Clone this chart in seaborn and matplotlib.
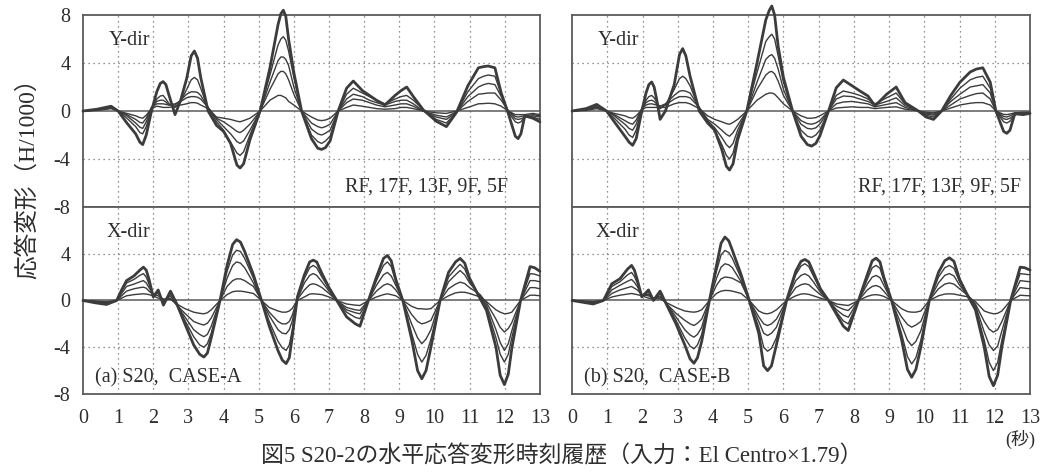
import numpy as np
import pandas as pd
import matplotlib
matplotlib.use("Agg")
import matplotlib.pyplot as plt
import seaborn as sns

# ---------------- data ----------------
floors = ["RF", "17F", "13F", "9F", "5F"]
x_ticks = list(range(14))
y_ticks_top = [-8, -4, 0, 4, 8]
y_ticks_bot = [-8, -4, 0, 4]

# (a) CASE-A, Y-dir
tA_y = [0, 0.4, 0.8, 1.0, 1.25, 1.5, 1.7, 1.95, 2.1, 2.28, 2.45, 2.62, 2.78, 2.95, 3.17,
        3.35, 3.56, 3.8, 4.0, 4.2, 4.47, 4.75, 5.04, 5.32, 5.55, 5.7, 5.85, 6.0, 6.22, 6.5,
        6.79, 7.03, 7.26, 7.5, 7.69, 7.95, 8.15, 8.35, 8.59, 8.88, 9.05, 9.21, 9.4, 9.68, 10.05,
        10.34, 10.63, 10.95, 11.25, 11.53, 11.72, 11.9, 12.1, 12.38, 12.57, 12.8, 13.0]
A_y_RF = [0, 0.15, 0.4, 0.0, -1.0, -1.9, -2.8, 0.0, 1.6, 2.45, 1.3, -0.3, 0.9, 2.7, 5.0,
          2.8, 0.0, -1.2, -1.7, -2.7, -4.75, -2.4, 0.0, 3.6, 7.2, 8.4, 6.0, 3.2, 0.0, -2.3,
          -3.2, -2.5, 0.0, 1.9, 2.5, 1.7, 1.3, 0.9, 0.5, 1.3, 1.7, 2.0, 1.2, 0.1, -0.85,
          -1.3, -0.1, 2.1, 3.6, 3.75, 3.6, 1.5, -0.2, -2.3, -0.4, -0.6, -0.9]
A_y_17F = [0, 0.12, 0.35, 0.0, -0.6, -1.3, -1.9, 0.2, 1.0, 1.3, 0.6, 0.3, 0.8, 1.8, 2.8,
           1.9, 0.2, -0.9, -1.6, -2.6, -3.7, -2.0, 0.1, 3.0, 5.5, 6.2, 5.0, 2.8, 0.0, -2.0,
           -2.7, -2.1, 0.0, 1.4, 1.9, 1.5, 1.2, 0.9, 0.6, 1.0, 1.2, 1.3, 0.9, 0.1, -0.7,
           -1.0, -0.1, 1.6, 2.7, 3.0, 2.9, 1.4, -0.1, -1.0, -0.5, -0.5, -0.7]
A_y_13F = [0, 0.1, 0.3, 0.0, -0.4, -1.0, -1.45, 0.3, 0.8, 0.9, 0.5, 0.5, 0.9, 1.4, 1.6,
           1.3, 0.3, -0.7, -1.3, -1.9, -2.7, -1.6, 0.0, 2.4, 4.2, 4.5, 3.8, 2.0, 0.0, -1.5,
           -2.0, -1.6, 0.0, 1.0, 1.4, 1.2, 0.9, 0.7, 0.5, 0.8, 0.9, 0.9, 0.6, 0.0, -0.5,
           -0.7, -0.1, 1.2, 2.0, 2.3, 2.2, 1.2, 0.0, -0.7, -0.5, -0.4, -0.5]
A_y_9F = [0, 0.08, 0.25, 0.0, -0.3, -0.7, -1.0, 0.3, 0.6, 0.6, 0.5, 0.6, 0.8, 1.1, 1.2,
          1.0, 0.3, -0.6, -0.9, -1.3, -1.8, -1.1, 0.0, 1.8, 3.1, 3.3, 2.6, 1.4, 0.0, -1.0,
          -1.4, -1.1, 0.0, 0.7, 1.0, 0.9, 0.7, 0.5, 0.35, 0.5, 0.6, 0.6, 0.4, 0.0, -0.35,
          -0.5, -0.05, 0.8, 1.4, 1.5, 1.5, 0.9, 0.0, -0.5, -0.4, -0.3, -0.4]
A_y_5F = [0, 0.05, 0.2, 0.0, -0.2, -0.4, -0.6, 0.2, 0.4, 0.3, 0.3, 0.4, 0.5, 0.6, 0.7,
          0.5, 0.2, -0.5, -0.6, -0.7, -0.9, -0.6, 0.0, 0.9, 1.3, 1.2, 0.8, 0.5, 0.0, -0.5,
          -0.8, -0.6, 0.0, 0.3, 0.5, 0.4, 0.3, 0.2, 0.15, 0.2, 0.3, 0.3, 0.2, 0.0, -0.15,
          -0.2, 0.0, 0.3, 0.6, 0.65, 0.6, 0.4, 0.0, -0.3, -0.3, -0.2, -0.3]
# extra readings around the rounded extrema
tA_y2 = [1.62, 1.8, 2.2, 2.36, 3.08, 3.26, 4.38, 4.57, 5.63, 5.77, 6.68, 6.9, 11.4, 12.3, 12.46]
A_y2_RF = [-2.6, -2.0, 2.3, 2.2, 4.6, 4.4, -4.5, -4.4, 8.1, 7.9, -3.1, -3.05, 3.7, -2.1, -1.9]
A_y2_17F = [-1.8, -1.3, 1.25, 1.0, 2.6, 2.6, -3.5, -3.4, 6.0, 5.9, -2.55, -2.5, 2.9, -0.9, -0.9]
A_y2_13F = [-1.35, -0.9, 0.9, 0.75, 1.6, 1.55, -2.55, -2.5, 4.5, 4.3, -1.9, -1.85, 2.2, -0.65, -0.65]
A_y2_9F = [-0.95, -0.6, 0.6, 0.55, 1.2, 1.15, -1.7, -1.6, 3.3, 3.1, -1.3, -1.3, 1.45, -0.45, -0.45]
A_y2_5F = [-0.55, -0.35, 0.35, 0.3, 0.7, 0.65, -0.85, -0.8, 1.3, 1.1, -0.75, -0.75, 0.62, -0.3, -0.3]

# (a) CASE-A, X-dir
tA_x = [0, 0.35, 0.67, 0.96, 1.1, 1.24, 1.45, 1.72, 1.88, 2.0, 2.14, 2.29, 2.49, 2.67, 2.9,
        3.15, 3.44, 3.65, 3.9, 4.1, 4.37, 4.6, 4.85, 5.08, 5.3, 5.55, 5.78, 5.95, 6.1, 6.3,
        6.55, 6.8, 7.0, 7.22, 7.5, 7.88, 8.12, 8.35, 8.66, 8.9, 9.1, 9.35, 9.64, 9.9, 10.16,
        10.4, 10.73, 11.0, 11.3, 11.48, 11.75, 11.99, 12.2, 12.45, 12.72, 13.0]
A_x_RF = [0, -0.2, -0.34, 0.0, 0.9, 1.7, 2.1, 2.85, 1.8, 0.3, 0.9, -0.4, 0.8, -0.3, -2.0,
          -3.8, -4.84, -3.2, 0.0, 3.0, 5.2, 4.2, 2.2, 0.0, -2.2, -4.3, -5.4, -3.2, 0.3, 2.2,
          3.45, 2.3, 1.1, 0.0, -1.4, -2.2, 0.0, 2.0, 3.85, 1.8, 0.0, -3.3, -6.7, -4.0, 0.0,
          2.4, 3.6, 1.9, 0.15, -0.85, -4.0, -7.2, -4.1, 0.0, 2.9, 2.5]
A_x_17F = [0, -0.15, -0.3, 0.0, 0.8, 1.5, 1.8, 2.3, 1.4, 0.4, 0.8, -0.2, 0.6, -0.3, -1.7,
           -3.1, -4.0, -2.8, 0.0, 2.5, 4.3, 3.6, 1.9, 0.0, -1.8, -3.5, -4.27, -2.6, 0.2, 1.9,
           3.0, 2.0, 1.0, 0.0, -1.0, -1.56, 0.0, 1.7, 3.3, 1.6, 0.0, -2.8, -5.27, -3.3, 0.0,
           2.0, 3.1, 1.7, 0.3, -0.6, -3.2, -5.27, -3.2, 0.0, 2.3, 2.1]
A_x_13F = [0, -0.1, -0.25, 0.0, 0.6, 1.2, 1.4, 1.7, 1.1, 0.5, 0.6, 0.0, 0.4, -0.4, -1.4,
           -2.5, -3.1, -2.2, 0.0, 1.9, 3.3, 2.8, 1.5, 0.0, -1.3, -2.5, -2.85, -1.8, 0.1, 1.5,
           2.3, 1.6, 0.8, 0.0, -0.8, -1.14, 0.0, 1.3, 2.4, 1.3, 0.0, -2.0, -3.7, -2.5, 0.0,
           1.6, 2.56, 1.5, 0.4, -0.4, -2.5, -4.27, -2.6, 0.0, 1.7, 1.6]
A_x_9F = [0, -0.08, -0.2, 0.0, 0.4, 0.8, 1.0, 1.14, 0.8, 0.5, 0.4, 0.1, 0.2, -0.4, -1.1,
          -1.8, -2.1, -1.5, 0.0, 1.2, 1.85, 1.7, 1.2, 0.0, -1.0, -1.8, -2.0, -1.3, 0.1, 0.9,
          1.43, 1.1, 0.6, 0.0, -0.6, -0.85, 0.0, 0.8, 1.43, 0.9, 0.0, -1.2, -2.0, -1.7, 0.0,
          1.0, 1.57, 1.1, 0.5, -0.2, -1.6, -2.7, -1.9, 0.0, 1.1, 1.0]
A_x_5F = [0, -0.05, -0.1, 0.0, 0.2, 0.4, 0.5, 0.57, 0.5, 0.4, 0.2, 0.1, 0.1, -0.3, -0.7,
          -1.0, -1.14, -0.8, 0.0, 0.5, 0.8, 0.75, 0.6, 0.0, -0.6, -0.9, -1.0, -0.7, 0.0, 0.3,
          0.57, 0.5, 0.3, 0.0, -0.3, -0.43, 0.0, 0.3, 0.57, 0.4, 0.0, -0.5, -0.71, -0.7, 0.0,
          0.4, 0.71, 0.6, 0.3, -0.1, -0.8, -1.14, -1.0, 0.0, 0.45, 0.4]
tA_x2 = [1.62, 1.8, 3.32, 3.54, 4.26, 4.48, 5.67, 5.87, 6.45, 6.65, 7.75, 8.55, 8.77,
         9.52, 9.76, 10.6, 10.86, 11.87, 12.1, 12.85]
A_x2_RF = [2.6, 2.6, -4.6, -4.5, 4.8, 5.0, -5.1, -4.9, 3.3, 3.3, -2.0, 3.6, 3.4,
           -6.0, -6.0, 3.3, 3.2, -6.4, -6.3, 2.8]
A_x2_17F = [2.15, 2.0, -3.8, -3.7, 3.9, 4.2, -4.05, -3.8, 2.8, 2.8, -1.45, 3.0, 2.9,
            -4.6, -4.7, 2.7, 2.7, -4.6, -4.6, 2.25]
A_x2_13F = [1.6, 1.5, -2.9, -2.9, 3.0, 3.2, -2.8, -2.5, 2.15, 2.15, -1.05, 2.2, 2.1,
            -3.2, -3.3, 2.2, 2.2, -3.6, -3.7, 1.7]
A_x2_9F = [1.1, 1.05, -2.0, -1.95, 1.7, 1.85, -2.0, -1.8, 1.35, 1.35, -0.8, 1.3, 1.3,
           -1.8, -1.9, 1.4, 1.45, -2.3, -2.4, 1.1]
A_x2_5F = [0.55, 0.55, -1.1, -1.05, 0.75, 0.8, -1.0, -0.9, 0.55, 0.55, -0.4, 0.5, 0.5,
           -0.7, -0.75, 0.65, 0.7, -1.0, -1.1, 0.45]

# (b) CASE-B, Y-dir
tB_y = [0, 0.4, 0.7, 0.98, 1.2, 1.5, 1.72, 1.98, 2.1, 2.26, 2.4, 2.5, 2.65, 2.9, 3.14,
        3.35, 3.61, 3.85, 4.05, 4.25, 4.47, 4.7, 4.96, 5.25, 5.5, 5.67, 5.85, 6.0, 6.26, 6.5,
        6.8, 7.03, 7.28, 7.5, 7.7, 7.95, 8.17, 8.4, 8.6, 8.93, 9.2, 9.45, 9.83, 10.05, 10.26,
        10.49, 10.75, 11.01, 11.3, 11.66, 11.87, 12.03, 12.34, 12.57, 12.8, 13.0]
B_y_RF = [0, 0.2, 0.55, 0.0, -0.9, -2.1, -2.86, 0.0, 1.5, 2.42, 1.0, -0.7, 0.0, 2.2, 5.2,
          2.9, 0.0, -1.0, -1.6, -3.2, -4.92, -2.4, 0.0, 4.0, 7.6, 8.75, 5.4, 2.8, 0.0, -2.1,
          -2.92, -2.1, 0.0, 1.94, 2.58, 2.1, 1.67, 1.25, 0.42, 1.4, 2.0, 0.7, 0.0, -0.5, -0.7,
          0.0, 1.3, 2.4, 3.25, 3.6, 2.4, 0.0, -1.86, -0.2, -0.3, -0.2]
B_y_17F = [0, 0.15, 0.45, 0.0, -0.6, -1.5, -2.2, 0.1, 0.9, 1.3, 0.8, 0.2, 0.5, 1.8, 2.9,
           2.1, 0.2, -0.9, -1.6, -2.8, -4.0, -2.0, 0.1, 3.2, 5.8, 6.4, 4.6, 2.4, 0.0, -1.6,
           -2.2, -1.6, 0.0, 1.3, 1.67, 1.5, 1.3, 1.0, 0.6, 1.1, 1.5, 0.6, 0.0, -0.35, -0.5,
           0.0, 1.0, 1.9, 2.6, 2.9, 1.9, 0.0, -1.0, -0.3, -0.3, -0.2]
B_y_13F = [0, 0.12, 0.35, 0.0, -0.4, -1.1, -1.6, 0.2, 0.7, 0.9, 0.6, 0.4, 0.6, 1.3, 1.7,
           1.5, 0.3, -0.8, -1.4, -2.2, -3.05, -1.6, 0.0, 2.4, 4.3, 4.7, 3.5, 1.8, 0.0, -1.1,
           -1.5, -1.1, 0.0, 1.0, 1.25, 1.2, 1.0, 0.8, 0.5, 0.8, 1.1, 0.45, 0.0, -0.25, -0.35,
           0.0, 0.8, 1.4, 2.0, 2.2, 1.5, 0.0, -0.7, -0.3, -0.2, -0.2]
B_y_9F = [0, 0.1, 0.3, 0.0, -0.3, -0.8, -1.1, 0.2, 0.5, 0.6, 0.5, 0.4, 0.5, 1.0, 1.2,
          1.1, 0.3, -0.7, -1.1, -1.6, -2.1, -1.2, 0.0, 1.8, 3.0, 3.3, 2.5, 1.3, 0.0, -0.8,
          -1.1, -0.8, 0.0, 0.6, 0.75, 0.8, 0.7, 0.6, 0.35, 0.55, 0.7, 0.3, 0.0, -0.2, -0.25,
          0.0, 0.5, 1.0, 1.3, 1.5, 1.0, 0.0, -0.5, -0.2, -0.2, -0.1]
B_y_5F = [0, 0.05, 0.2, 0.0, -0.2, -0.4, -0.6, 0.1, 0.3, 0.3, 0.3, 0.3, 0.3, 0.6, 0.7,
          0.6, 0.2, -0.4, -0.7, -0.9, -1.1, -0.7, 0.0, 0.9, 1.4, 1.5, 1.1, 0.6, 0.0, -0.4,
          -0.6, -0.4, 0.0, 0.25, 0.3, 0.35, 0.3, 0.3, 0.2, 0.3, 0.35, 0.15, 0.0, -0.1, -0.15,
          0.0, 0.25, 0.5, 0.65, 0.7, 0.5, 0.0, -0.3, -0.15, -0.1, -0.1]
tB_y2 = [1.62, 1.82, 2.18, 2.33, 3.05, 3.23, 4.38, 4.57, 5.6, 5.75, 6.68, 6.92, 11.48, 12.25, 12.43]
B_y2_RF = [-2.6, -2.3, 2.2, 2.0, 4.7, 4.6, -4.6, -4.4, 8.4, 8.0, -2.8, -2.7, 3.5, -1.7, -1.6]
B_y2_17F = [-2.0, -1.6, 1.2, 1.1, 2.7, 2.7, -3.7, -3.5, 6.2, 6.0, -2.1, -2.0, 2.8, -0.9, -0.85]
B_y2_13F = [-1.45, -1.1, 0.85, 0.8, 1.65, 1.65, -2.8, -2.7, 4.6, 4.4, -1.45, -1.4, 2.1, -0.65, -0.6]
B_y2_9F = [-1.0, -0.75, 0.58, 0.55, 1.2, 1.2, -1.95, -1.8, 3.25, 3.1, -1.05, -1.0, 1.45, -0.45, -0.4]
B_y2_5F = [-0.55, -0.4, 0.3, 0.3, 0.7, 0.7, -1.05, -0.95, 1.5, 1.4, -0.6, -0.55, 0.7, -0.28, -0.25]

# (b) CASE-B, X-dir
tB_x = [0, 0.3, 0.6, 0.89, 1.13, 1.36, 1.69, 1.85, 1.98, 2.17, 2.31, 2.5, 2.69, 2.95, 3.2,
        3.46, 3.68, 3.9, 4.1, 4.34, 4.55, 4.8, 5.03, 5.3, 5.55, 5.8, 6.09, 6.35, 6.61, 6.85,
        7.05, 7.28, 7.51, 7.84, 8.13, 8.38, 8.63, 8.85, 9.07, 9.35, 9.64, 9.9, 10.14, 10.4,
        10.71, 11.0, 11.25, 11.45, 11.7, 11.96, 12.2, 12.45, 12.72, 13.0]
B_x_RF = [0, -0.15, -0.3, 0.0, 1.43, 1.86, 3.0, 1.8, 0.3, 0.9, 0.0, 0.8, -0.4, -2.0, -3.8,
          -5.37, -3.5, 0.0, 3.0, 5.43, 4.3, 2.2, 0.0, -2.8, -6.0, -3.8, 0.0, 2.5, 3.51, 2.4,
          1.0, 0.0, -1.2, -2.57, 0.0, 2.2, 3.62, 2.0, 0.0, -3.3, -6.57, -4.0, 0.0, 2.4,
          3.65, 1.8, 0.3, -0.8, -4.0, -7.29, -4.0, 0.0, 2.85, 2.6]
B_x_17F = [0, -0.12, -0.25, 0.0, 1.2, 1.6, 2.4, 1.5, 0.4, 0.7, 0.1, 0.6, -0.3, -1.7, -3.2,
           -4.14, -2.9, 0.0, 2.5, 4.28, 3.6, 1.9, 0.0, -2.3, -4.34, -3.2, 0.0, 2.2, 3.14, 2.1,
           0.9, 0.0, -1.0, -2.0, 0.0, 1.8, 3.0, 1.7, 0.0, -2.8, -5.43, -3.4, 0.0, 2.0,
           3.0, 1.6, 0.3, -0.6, -3.4, -6.0, -3.4, 0.0, 2.3, 2.2]
B_x_13F = [0, -0.1, -0.2, 0.0, 0.9, 1.3, 1.8, 1.2, 0.5, 0.5, 0.2, 0.4, -0.3, -1.4, -2.5,
           -3.14, -2.3, 0.0, 1.9, 3.14, 2.8, 1.6, 0.0, -1.8, -3.0, -2.3, 0.0, 1.7, 2.28, 1.6,
           0.7, 0.0, -0.8, -1.43, 0.0, 1.4, 2.14, 1.3, 0.0, -2.1, -3.86, -2.6, 0.0, 1.5,
           2.3, 1.3, 0.4, -0.4, -2.7, -4.28, -2.6, 0.0, 1.7, 1.6]
B_x_9F = [0, -0.07, -0.15, 0.0, 0.6, 0.9, 1.2, 0.9, 0.5, 0.4, 0.2, 0.3, -0.3, -1.1, -1.7,
          -2.14, -1.6, 0.0, 1.3, 2.0, 1.9, 1.5, 0.0, -1.4, -2.14, -1.6, 0.0, 1.1, 1.43, 1.0,
          0.5, 0.0, -0.5, -0.86, 0.0, 0.9, 1.28, 0.8, 0.0, -1.4, -2.28, -1.8, 0.0, 1.0,
          1.5, 1.0, 0.4, -0.3, -1.8, -2.71, -1.8, 0.0, 1.1, 1.0]
B_x_5F = [0, -0.04, -0.08, 0.0, 0.3, 0.45, 0.6, 0.5, 0.4, 0.2, 0.15, 0.15, -0.2, -0.6, -0.9,
          -1.0, -0.8, 0.0, 0.6, 0.86, 0.8, 0.6, 0.0, -0.9, -1.14, -0.8, 0.0, 0.4, 0.57, 0.4,
          0.2, 0.0, -0.3, -0.43, 0.0, 0.35, 0.5, 0.35, 0.0, -0.7, -1.0, -0.9, 0.0, 0.4,
          0.57, 0.45, 0.3, -0.1, -0.9, -1.14, -0.9, 0.0, 0.45, 0.4]
tB_x2 = [1.58, 1.77, 3.35, 3.56, 4.23, 4.45, 5.44, 5.66, 6.5, 6.72, 7.7, 8.52, 8.74,
         9.52, 9.76, 10.58, 10.84, 11.84, 12.08, 12.85]
B_x2_RF = [2.7, 2.6, -5.0, -4.9, 4.9, 5.1, -5.6, -5.6, 3.35, 3.3, -2.2, 3.4, 3.3,
           -5.9, -5.9, 3.4, 3.35, -6.5, -6.4, 2.8]
B_x2_17F = [2.2, 2.05, -3.9, -3.8, 3.9, 4.1, -4.0, -4.1, 2.95, 2.9, -1.75, 2.8, 2.75,
            -4.8, -4.9, 2.8, 2.75, -5.3, -5.3, 2.25]
B_x2_13F = [1.65, 1.55, -2.95, -2.9, 2.85, 3.05, -2.8, -2.8, 2.15, 2.1, -1.25, 2.0, 1.95,
            -3.4, -3.5, 2.15, 2.1, -3.8, -3.9, 1.65]
B_x2_9F = [1.1, 1.05, -2.0, -1.95, 1.85, 1.97, -2.0, -2.0, 1.35, 1.35, -0.75, 1.2, 1.15,
           -2.05, -2.1, 1.4, 1.4, -2.45, -2.5, 1.05]
B_x2_5F = [0.55, 0.55, -0.97, -0.95, 0.8, 0.85, -1.1, -1.05, 0.55, 0.52, -0.38, 0.47, 0.45,
           -0.95, -1.0, 0.55, 0.55, -1.05, -1.1, 0.42]

# ---------------- style ----------------
sns.set_theme(style="white")
plt.rcParams["font.family"] = ["Liberation Serif", "Noto Sans CJK JP"]
plt.rcParams["axes.unicode_minus"] = False

LINE = "#3c3c3c"
FRAME = "#5a5a5a"
GRID = "#6e6e6e"
TXT = "#2e2e2e"
hue_order = ["5F", "9F", "13F", "17F", "RF"]
lw_map = {"RF": 2.0, "17F": 1.0, "13F": 1.0, "9F": 1.0, "5F": 1.0}
pal = {f: LINE for f in floors}


def long_df(t, series, t2, series2):
    frames = []
    for name, vals, vals2 in zip(floors, series, series2):
        frames.append(pd.DataFrame({"t": list(t) + list(t2),
                                    "v": list(vals) + list(vals2), "floor": name}))
    df = pd.concat(frames, ignore_index=True)
    return df.sort_values(["floor", "t"], kind="mergesort").reset_index(drop=True)


fig = plt.figure(figsize=(10.5, 4.72), dpi=100)

W_L, W_R = 0.4352, 0.4362
X_L, X_R = 0.0790, 0.5448
Y_TOP, H_TOP = 0.5614, 0.4068
Y_BOT, H_BOT = 0.1653, 0.3962

panels = [
    (X_L, W_L, True,
     (tA_y, [A_y_RF, A_y_17F, A_y_13F, A_y_9F, A_y_5F],
      tA_y2, [A_y2_RF, A_y2_17F, A_y2_13F, A_y2_9F, A_y2_5F]),
     (tA_x, [A_x_RF, A_x_17F, A_x_13F, A_x_9F, A_x_5F],
      tA_x2, [A_x2_RF, A_x2_17F, A_x2_13F, A_x2_9F, A_x2_5F]),
     "(a) S20,  CASE-A", 12.1),
    (X_R, W_R, False,
     (tB_y, [B_y_RF, B_y_17F, B_y_13F, B_y_9F, B_y_5F],
      tB_y2, [B_y2_RF, B_y2_17F, B_y2_13F, B_y2_9F, B_y2_5F]),
     (tB_x, [B_x_RF, B_x_17F, B_x_13F, B_x_9F, B_x_5F],
      tB_x2, [B_x2_RF, B_x2_17F, B_x2_13F, B_x2_9F, B_x2_5F]),
     "(b) S20,  CASE-B", 12.75),
]


def setup(ax, is_top, show_y):
    ax.set_xlim(0, 13)
    ax.set_ylim(-8, 8)
    ax.set_xticks(x_ticks)
    ticks = y_ticks_top if is_top else y_ticks_bot
    ax.set_yticks(ticks)
    if show_y:
        ax.set_yticklabels([str(v) for v in ticks])
    else:
        ax.set_yticklabels([])
    if is_top:
        ax.set_xticklabels([])
    else:
        ax.set_xticklabels([str(v) for v in x_ticks])
    ax.tick_params(length=0, labelsize=14.5, colors=TXT, pad=9)
    ax.tick_params(axis="x", pad=11)
    for x in range(1, 13):
        ax.axvline(x, color=GRID, lw=0.9, ls=(0, (1, 3)), zorder=0)
    for y in (-4, 4):
        ax.axhline(y, color=GRID, lw=0.9, ls=(0, (1, 3)), zorder=0)
    ax.axhline(0, color=FRAME, lw=1.1, zorder=1)
    for s in ax.spines.values():
        s.set_color(FRAME)
        s.set_linewidth(1.3)
        s.set_visible(True)
    ax.set_xlabel("")
    ax.set_ylabel("")
    ax.set_facecolor("white")


for x0, w, show_y, ydat, xdat, case_label, rf_x in panels:
    ax_t = fig.add_axes([x0, Y_TOP, w, H_TOP])
    ax_b = fig.add_axes([x0, Y_BOT, w, H_BOT])
    for ax, dat, is_top in ((ax_t, ydat, True), (ax_b, xdat, False)):
        df = long_df(*dat)
        sns.lineplot(data=df, x="t", y="v", hue="floor", hue_order=hue_order,
                     palette=pal, size="floor", sizes=lw_map, size_order=hue_order,
                     estimator=None, sort=True, legend=False, ax=ax, zorder=3)
        for ln in ax.lines:
            ln.set_clip_on(False)
            ln.set_solid_joinstyle("round")
        setup(ax, is_top, show_y)
    ax_t.text(0.72, 5.9, "Y-dir", fontsize=14.5, color=TXT, ha="left", va="center")
    ax_t.text(rf_x, -6.3, "RF, 17F, 13F, 9F, 5F", fontsize=14.5, color=TXT,
              ha="right", va="center")
    ax_b.text(0.68, 5.8, "X-dir", fontsize=14.5, color=TXT, ha="left", va="center")
    ax_b.text(0.35, -6.6, case_label, fontsize=14.5, color=TXT, ha="left", va="center")

fig.text(0.026, 0.635, "応答変形（H/1000）", rotation=90, ha="center", va="center",
         fontsize=17, color=TXT)
fig.text(0.972, 0.068, "(秒)", ha="center", va="center", fontsize=13, color=TXT)
fig.text(0.535, 0.034, "図5 S20-2の水平応答変形時刻履歴（入力：El Centro×1.79）",
         ha="center", va="center", fontsize=16.5, color=TXT)

fig.savefig("out.png", dpi=100, facecolor="white")
